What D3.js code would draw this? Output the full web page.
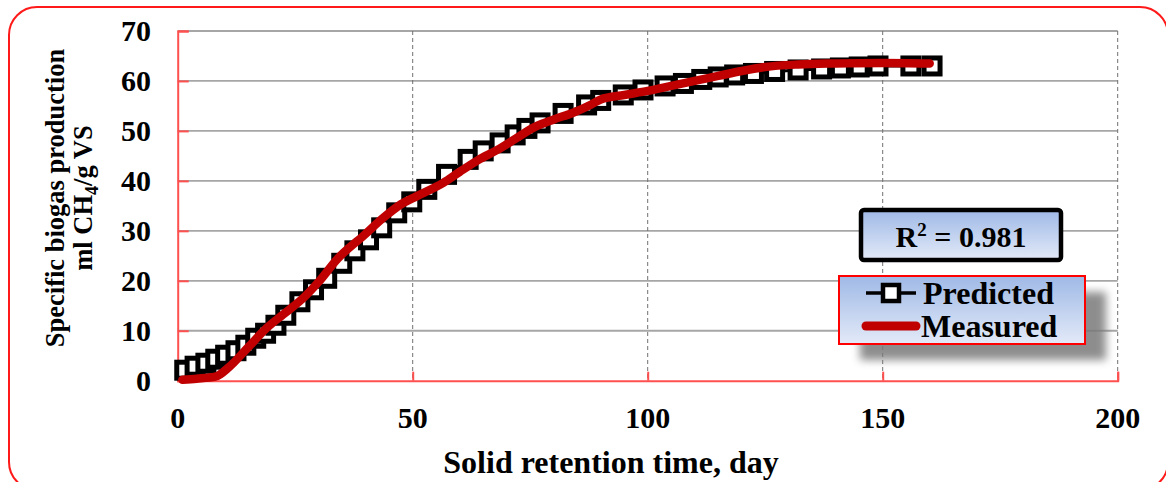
<!DOCTYPE html>
<html>
<head>
<meta charset="utf-8">
<script src="https://cdn.jsdelivr.net/npm/d3@7"></script>
<style>
  html, body { margin: 0; padding: 0; background: #fff; }
  svg text { font-family: "Liberation Serif", "Times New Roman", serif; font-weight: bold; fill: #000; }
</style>
</head>
<body>
<svg id="chart" width="1166" height="482"></svg>
<script>
// values
const predictedDays = [1.5, 3.7, 6, 8.1, 10.2, 12.4, 14.5, 16.6, 18.7, 20.9, 23, 26, 28.9, 31.7, 34.9, 37.7, 40.6, 43.4, 46.6, 49.8, 53, 57.2, 61.8, 65, 68.6, 71.8, 74.3, 77.1, 82, 87, 90, 94.8, 99, 103.7, 107.6, 111.5, 115, 118.5, 122.5, 127, 132, 137, 141, 145, 149, 156, 160.5];
const predictedValues = [2.1, 2.9, 3.5, 4.3, 5.1, 6.0, 7.1, 8.5, 9.5, 11.1, 13.1, 15.8, 18.2, 20.5, 23.5, 26, 28.2, 30.6, 33.6, 35.8, 38.3, 41.3, 44.3, 46, 47.6, 49.2, 50.5, 51.6, 53.5, 55.2, 56.1, 57.2, 58.2, 59, 59.5, 60.3, 60.8, 61.2, 61.5, 61.9, 62.2, 62.4, 62.6, 62.8, 63, 63, 63];

const measuredDays = [1, 4, 8, 11, 15, 19, 22.5, 27, 30, 34, 39.5, 44, 47, 51, 56.5, 60, 64, 68, 72, 76, 80, 84, 88, 90, 95, 100, 105, 110, 115, 120, 125, 132, 140, 150, 160];
const measuredValues = [0.2, 0.4, 0.8, 2.8, 6.7, 10.6, 13.3, 16.8, 19.8, 24.4, 29, 32.8, 35, 37, 39.6, 41.8, 44.2, 46.2, 48.5, 50.8, 52.3, 53.6, 55.3, 56.3, 57.2, 58, 59, 60, 61, 62, 62.8, 63.3, 63.5, 63.6, 63.5];

const xTicks = [0, 50, 100, 150, 200];
const yTicks = [0, 10, 20, 30, 40, 50, 60, 70];
const r2Label = '0.981';

const predicted = predictedDays.map((d, i) => ({x: d, y: predictedValues[i]}));
const measured = measuredDays.map((d, i) => ({x: d, y: measuredValues[i]}));

const svg = d3.select('svg#chart');
const plotLeft = 177.7, plotRight = 1117.7, plotTop = 31, plotBottom = 380.7;

const x = d3.scaleLinear().domain([0, 200]).range([plotLeft, plotRight]);
const y = d3.scaleLinear().domain([0, 70]).range([plotBottom, plotTop]);

const defs = svg.append('defs');
const grad = defs.append('linearGradient')
  .attr('id', 'blueFill')
  .attr('x1', 0).attr('y1', 0).attr('x2', 0).attr('y2', 1);
grad.append('stop').attr('offset', '0%').attr('stop-color', '#9fb9e6');
grad.append('stop').attr('offset', '100%').attr('stop-color', '#e3eaf8');
defs.append('filter')
  .attr('id', 'blur')
  .attr('x', '-20%').attr('y', '-30%').attr('width', '140%').attr('height', '160%')
  .append('feGaussianBlur').attr('stdDeviation', 4);

// outer frame
svg.append('rect')
  .attr('x', 9).attr('y', 7)
  .attr('width', 1159).attr('height', 483)
  .attr('rx', 28)
  .attr('fill', '#fff')
  .attr('stroke', '#ff1a1a')
  .attr('stroke-width', 2);

// horizontal grid
svg.append('g')
  .selectAll('line')
  .data(yTicks.filter(d => d > 0))
  .enter().append('line')
  .attr('x1', plotLeft).attr('x2', plotRight)
  .attr('y1', d => y(d)).attr('y2', d => y(d))
  .attr('stroke', '#a6a6a6')
  .attr('stroke-width', 1.8);

// vertical dashed grid
svg.append('g')
  .selectAll('line')
  .data(xTicks.filter(d => d > 0))
  .enter().append('line')
  .attr('x1', d => x(d)).attr('x2', d => x(d))
  .attr('y1', plotTop).attr('y2', plotBottom)
  .attr('stroke', '#707070')
  .attr('stroke-width', 1)
  .attr('stroke-dasharray', '4,3');

// axes (red, ticks inside)
const yAxis = d3.axisLeft(y).tickValues(yTicks).tickSize(-11).tickFormat('');
const xAxis = d3.axisBottom(x).tickValues(xTicks).tickSize(-9).tickFormat('');

const gy = svg.append('g').attr('transform', `translate(${plotLeft},0)`).call(yAxis);
const gx = svg.append('g').attr('transform', `translate(0,${plotBottom})`).call(xAxis);
[gy, gx].forEach(g => {
  g.select('.domain').attr('stroke', '#ff5050').attr('stroke-width', 2);
  g.selectAll('.tick line').attr('stroke', '#ff5050').attr('stroke-width', 2);
});

// tick labels
svg.append('g')
  .selectAll('text')
  .data(yTicks)
  .enter().append('text')
  .attr('x', 151)
  .attr('y', d => y(d))
  .attr('dy', '0.34em')
  .attr('text-anchor', 'end')
  .style('font-size', '30px')
  .text(d => d);

svg.append('g')
  .selectAll('text')
  .data(xTicks)
  .enter().append('text')
  .attr('x', d => x(d))
  .attr('y', 418)
  .attr('dy', '0.34em')
  .attr('text-anchor', 'middle')
  .style('font-size', '30px')
  .text(d => d);

// axis titles
svg.append('text')
  .attr('x', 611).attr('y', 473)
  .attr('text-anchor', 'middle')
  .style('font-size', '32px')
  .text('Solid retention time, day');

const yTitle = svg.append('text')
  .attr('transform', 'translate(64,198) rotate(-90)')
  .attr('text-anchor', 'middle')
  .style('font-size', '26.5px');
yTitle.append('tspan').attr('x', 0).attr('y', 0).text('Specific biogas production');
const line2 = yTitle.append('tspan').attr('x', 0).attr('y', 28);
line2.append('tspan').text('ml CH');
line2.append('tspan').attr('dy', 6).style('font-size', '18px').text('4');
line2.append('tspan').attr('dy', -6).text('/g VS');

// predicted series: thin connecting line + square markers
const lineGen = d3.line().x(d => x(d.x)).y(d => y(d.y));
svg.append('path')
  .datum(predicted)
  .attr('d', lineGen)
  .attr('fill', 'none')
  .attr('stroke', '#000')
  .attr('stroke-width', 3);

svg.append('g')
  .selectAll('rect')
  .data(predicted)
  .enter().append('rect')
  .attr('x', d => x(d.x) - 8)
  .attr('y', d => y(d.y) - 8)
  .attr('width', 16).attr('height', 16)
  .attr('fill', '#fff')
  .attr('stroke', '#000')
  .attr('stroke-width', 5);

// measured series
svg.append('path')
  .datum(measured)
  .attr('d', d3.line().x(d => x(d.x)).y(d => y(d.y)).curve(d3.curveMonotoneX))
  .attr('fill', 'none')
  .attr('stroke', '#c00000')
  .attr('stroke-width', 8.5)
  .attr('stroke-linecap', 'round')
  .attr('stroke-linejoin', 'round');

// R2 box
svg.append('rect')
  .attr('x', 861).attr('y', 210)
  .attr('width', 200).attr('height', 50)
  .attr('rx', 3)
  .attr('fill', 'url(#blueFill)')
  .attr('stroke', '#000')
  .attr('stroke-width', 4.5);
const r2 = svg.append('text')
  .attr('x', 961).attr('y', 247)
  .attr('text-anchor', 'middle')
  .style('font-size', '30px');
r2.append('tspan').text('R');
r2.append('tspan').attr('dy', -11).style('font-size', '19px').text('2');
r2.append('tspan').attr('dy', 11).text(' = ' + r2Label);

// legend
svg.append('rect')
  .attr('x', 860).attr('y', 292)
  .attr('width', 246).attr('height', 68)
  .attr('fill', '#7a7a7a')
  .attr('opacity', 0.85)
  .attr('filter', 'url(#blur)');
svg.append('rect')
  .attr('x', 839).attr('y', 276)
  .attr('width', 246).attr('height', 68)
  .attr('fill', 'url(#blueFill)')
  .attr('stroke', '#ff0000')
  .attr('stroke-width', 2);

svg.append('line')
  .attr('x1', 866).attr('x2', 916)
  .attr('y1', 293).attr('y2', 293)
  .attr('stroke', '#000').attr('stroke-width', 3.5);
svg.append('rect')
  .attr('x', 883).attr('y', 285)
  .attr('width', 16).attr('height', 16)
  .attr('fill', '#fff')
  .attr('stroke', '#000')
  .attr('stroke-width', 4.5);
svg.append('text')
  .attr('x', 923).attr('y', 304)
  .style('font-size', '32px')
  .text('Predicted');

svg.append('line')
  .attr('x1', 866).attr('x2', 916)
  .attr('y1', 326).attr('y2', 326)
  .attr('stroke', '#c00000').attr('stroke-width', 9)
  .attr('stroke-linecap', 'round');
svg.append('text')
  .attr('x', 921).attr('y', 337)
  .style('font-size', '32px')
  .text('Measured');
</script>
</body>
</html>
